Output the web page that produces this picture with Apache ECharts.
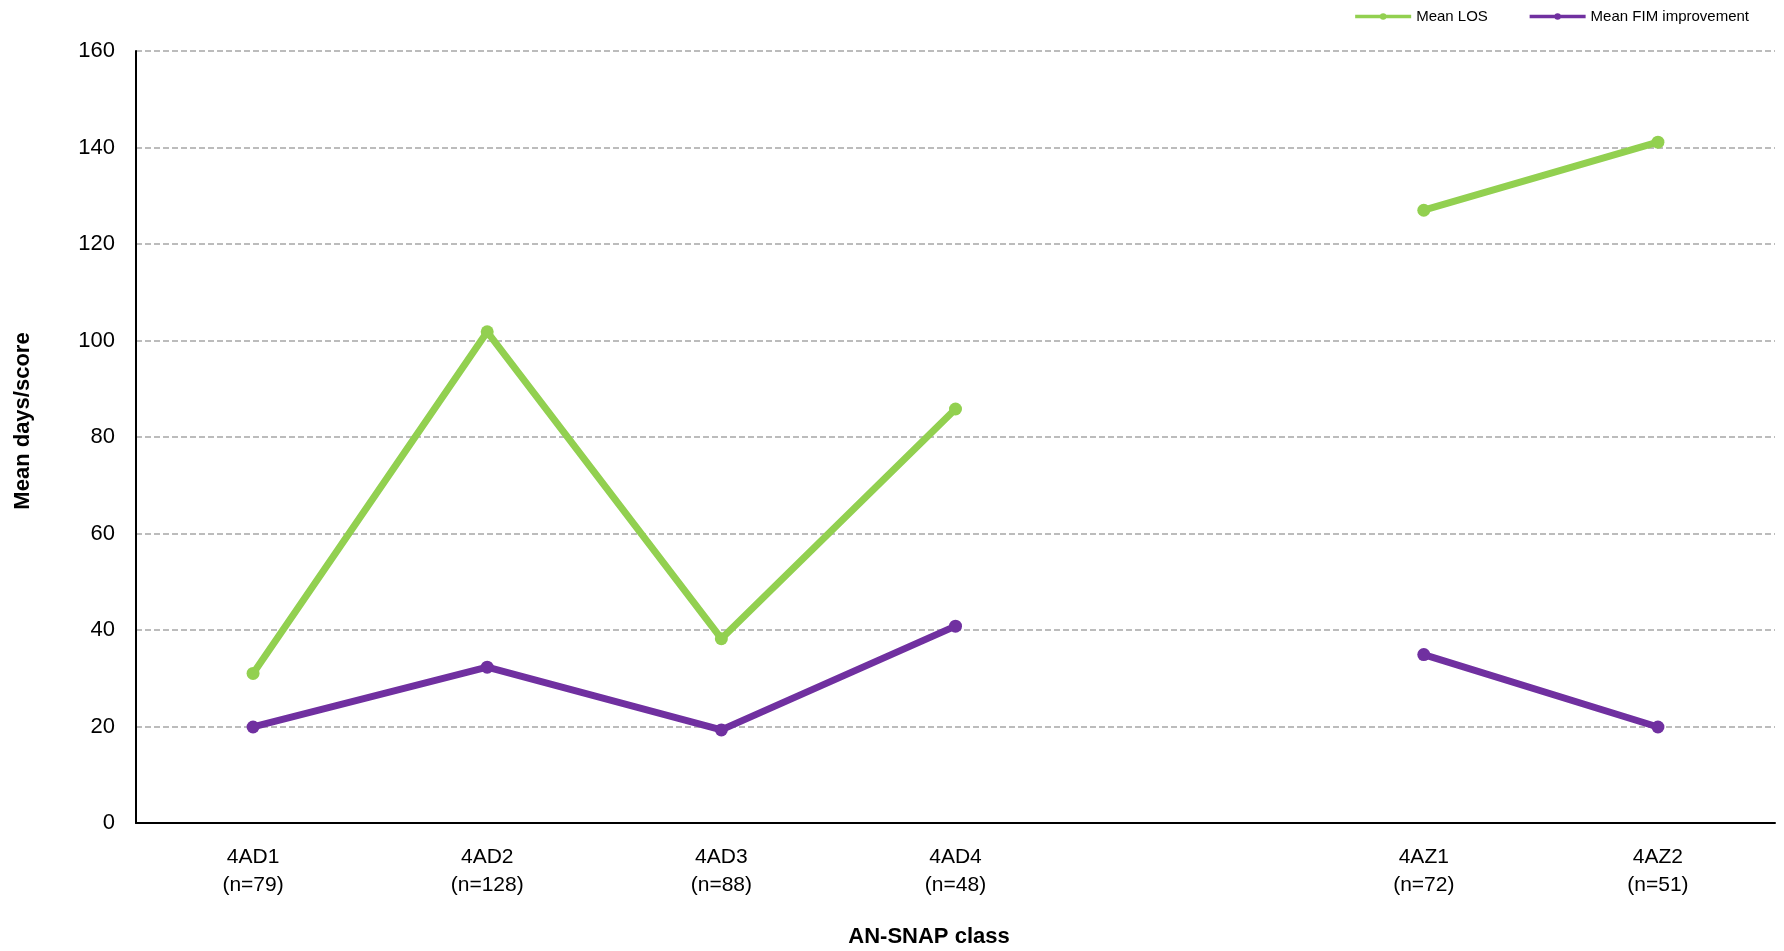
<!DOCTYPE html>
<html><head><meta charset="utf-8">
<script src="https://cdn.jsdelivr.net/npm/echarts@6/dist/echarts.min.js"></script>
<style>html,body{margin:0;padding:0;background:#fff}#c{width:1784px;height:951px}</style>
</head><body><div id="c"></div>
<script>
const categories = ['4AD1\n(n=79)', '4AD2\n(n=128)', '4AD3\n(n=88)', '4AD4\n(n=48)', '', '4AZ1\n(n=72)', '4AZ2\n(n=51)'];
const meanLOS = [31.0, 101.8, 38.2, 85.8, null, 127.0, 141.1];
const meanFIM = [19.9, 32.3, 19.3, 40.8, null, 34.9, 19.9];
const yTicks = [0, 20, 40, 60, 80, 100, 120, 140, 160];

const FONT = '"Liberation Sans Narrow", "Liberation Sans", Arial, sans-serif';
const chart = echarts.init(document.getElementById('c'));
chart.setOption({
  animation: false,
  backgroundColor: '#fff',
  textStyle: { fontFamily: FONT },
  title: [
    { text: 'AN-SNAP class', left: 924, top: 921, textAlign: 'center',
      textStyle: { fontFamily: FONT, fontWeight: 'bold', fontSize: 22, color: '#000' } }
  ],
  graphic: [
    { type: 'text', x: 23, y: 421, rotation: Math.PI / 2,
      style: { text: 'Mean days/score', fontFamily: FONT, fontWeight: 'bold', fontSize: 22,
               fill: '#000', align: 'center', verticalAlign: 'middle' } }
  ],
  legend: {
    right: 30, top: 4, itemGap: 40, itemWidth: 56, itemHeight: 8,
    lineStyle: { width: 3.5 },
    textStyle: { fontFamily: FONT, fontSize: 15, color: '#000' },
    data: ['Mean LOS', 'Mean FIM improvement']
  },
  grid: { left: 136, right: 9, top: 51, bottom: 128 },
  xAxis: {
    type: 'category', data: categories, boundaryGap: true,
    axisLine: { lineStyle: { color: '#000', width: 2 } },
    axisTick: { show: false },
    axisLabel: { color: '#000', fontSize: 21, lineHeight: 28, margin: 20, interval: 0, fontFamily: FONT }
  },
  yAxis: {
    type: 'value', min: yTicks[0], max: yTicks[yTicks.length - 1], interval: 20,
    axisLine: { show: true, lineStyle: { color: '#000', width: 2 } },
    axisTick: { show: false },
    axisLabel: { color: '#000', fontSize: 22, margin: 21, fontFamily: FONT },
    splitLine: { lineStyle: { color: '#A6A6A6', type: [6, 3], width: 1.5 } }
  },
  series: [
    { name: 'Mean LOS', type: 'line', data: meanLOS, connectNulls: false,
      symbol: 'circle', symbolSize: 13,
      lineStyle: { color: '#92D050', width: 7 }, itemStyle: { color: '#92D050' } },
    { name: 'Mean FIM improvement', type: 'line', data: meanFIM, connectNulls: false,
      symbol: 'circle', symbolSize: 13,
      lineStyle: { color: '#7030A0', width: 7 }, itemStyle: { color: '#7030A0' } }
  ]
});
</script></body></html>
